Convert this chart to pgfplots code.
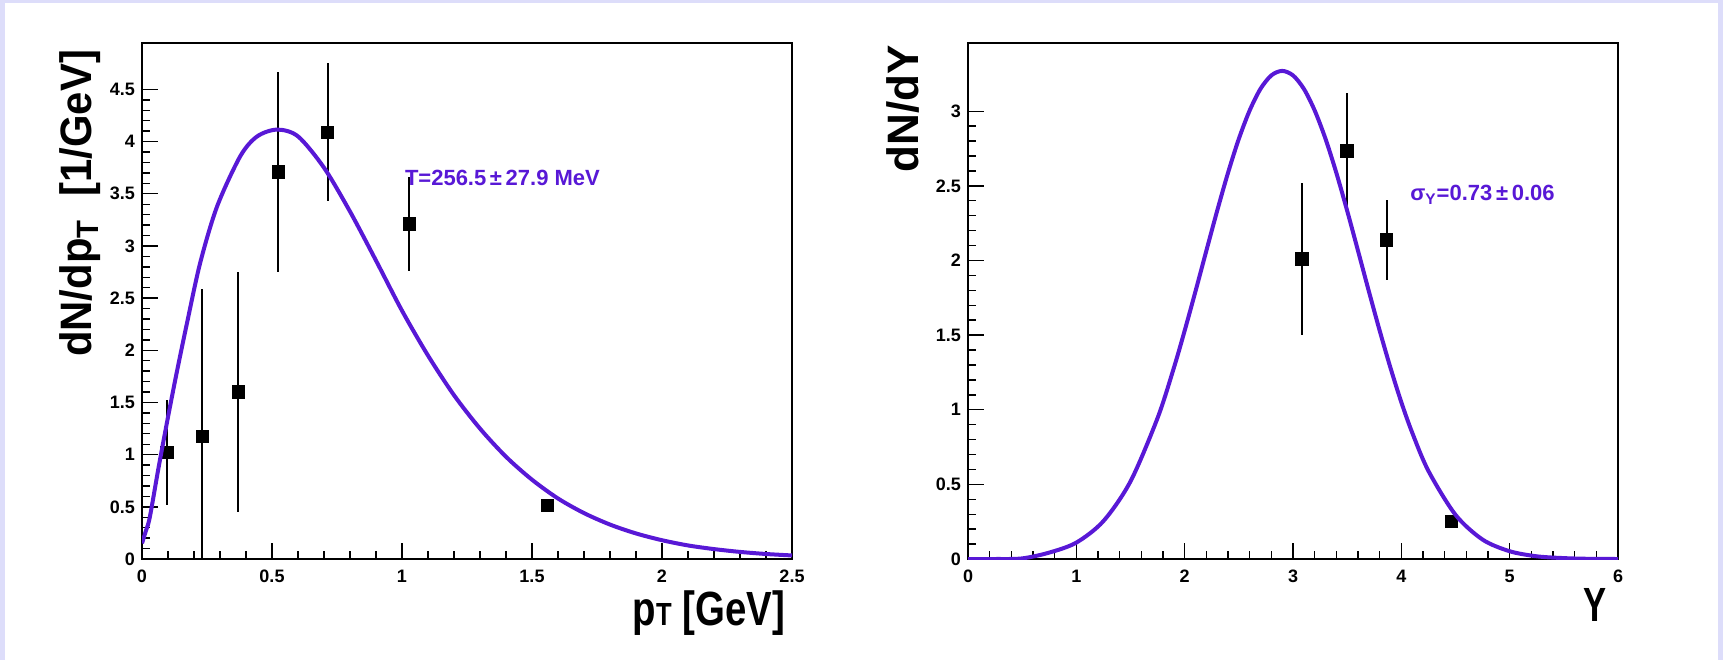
\documentclass[border=0pt]{standalone}
\usepackage{pgfplots}
\pgfplotsset{compat=1.18}
\usepackage{fontspec}
\setmainfont{Liberation Sans}
\definecolor{fitblue}{RGB}{88,24,214}
\definecolor{framebg}{RGB}{221,221,250}

\pgfplotsset{rootstyle/.style={
    scale only axis, width=325pt, height=258pt,
    axis line style={line width=0.9pt},
    tick align=inside, xtick pos=bottom, ytick pos=left,
    major tick length=8pt, minor tick length=4pt,
    tick style={black,line width=0.7pt},
    minor tick num=4,
    tick label style={font=\fontsize{9}{9}\selectfont\bfseries},
    /pgf/number format/assume math mode=true,
    xticklabel style={yshift=-2pt},
    clip mode=individual,
    every axis y label/.style={rotate=90,anchor=east,font=\fontsize{22}{22}\selectfont\bfseries},
    every axis x label/.style={anchor=base east,font=\fontsize{24}{24}\selectfont\bfseries}}}

\begin{document}
\begin{tikzpicture}
\useasboundingbox (0,0) rectangle (861.5pt,330pt);
\fill[framebg] (0,0) rectangle (861.5pt,330pt);
\fill[white] (2.5pt,0) rectangle (859pt,328.5pt);

% left: transverse momentum spectrum
\begin{axis}[rootstyle, at={(71pt,50.5pt)}, anchor=south west,
  xmin=0, xmax=2.5, ymin=0, ymax=4.945,
  xtick={0,0.5,...,2.5}, ytick={0,0.5,...,4.5},
  ylabel={\scalebox{0.95}[1]{dN/dp\textsubscript{T}\ \ [1/GeV]}}, y label style={at={(axis description cs:-0.0954,1)}},
  xlabel={\scalebox{0.8}[1]{p{\fontsize{16}{16}\selectfont T} [GeV]}}, x label style={at={(axis description cs:1.0,-0.128)}}]
  \addplot[only marks, mark=square*, mark size=3.1pt, black,
    error bars/.cd, y dir=both, y explicit, error mark=none,
    error bar style={line width=1pt,black}]
    coordinates {(0.095,1.02) +- (0,0.50) (0.232,1.175) +- (0,1.415) (0.371,1.60) +- (0,1.15)
      (0.524,3.71) +- (0,0.96) (0.714,4.09) +- (0,0.66) (1.028,3.21) +- (0,0.45) (1.559,0.515) +- (0,0.05)};
  \addplot[fitblue, line width=2pt, smooth] coordinates {
    (0,0.15) (0.015,0.27) (0.03,0.40) (0.064,0.88) (0.1,1.36) (0.133,1.78) (0.173,2.26) (0.224,2.84)
    (0.289,3.38) (0.378,3.86) (0.443,4.05) (0.52,4.115) (0.6,4.05) (0.7,3.75) (0.8,3.33)
    (0.9,2.86) (1.0,2.38) (1.1,1.95) (1.2,1.57) (1.3,1.25) (1.4,0.98) (1.5,0.76) (1.6,0.58)
    (1.7,0.44) (1.8,0.33) (1.9,0.245) (2.0,0.18) (2.1,0.13) (2.2,0.095) (2.3,0.068) (2.4,0.048) (2.5,0.034)};
  \node[anchor=west, text=fitblue, inner sep=0pt, font=\fontsize{11}{11}\selectfont\bfseries]
    at (axis cs:1.01,3.65) {T=256.5\,±\,27.9 MeV};
\end{axis}

% right: rapidity distribution
\begin{axis}[rootstyle, at={(484pt,50.5pt)}, anchor=south west,
  xmin=0, xmax=6, ymin=0, ymax=3.457,
  xtick={0,1,...,6}, ytick={0,0.5,...,3},
  ylabel={dN/dY}, y label style={at={(axis description cs:-0.1,1.01)}},
  xlabel={\scalebox{0.72}[1]{Y}}, x label style={at={(axis description cs:0.993,-0.122)}}]
  \addplot[only marks, mark=square*, mark size=3.1pt, black,
    error bars/.cd, y dir=both, y explicit, error mark=none,
    error bar style={line width=1pt,black}]
    coordinates {(3.083,2.01) +- (0,0.51) (3.499,2.733) +- (0,0.39) (3.864,2.137) +- (0,0.27) (4.462,0.252) +- (0,0.04)};
  \addplot[fitblue, line width=2pt, smooth] coordinates {
    (0,0.0) (0.25,0.0) (0.5,0.004) (0.75,0.043) (1.0,0.11) (1.25,0.254) (1.5,0.52) (1.75,0.945)
    (1.9,1.28) (2.0,1.53) (2.1,1.794) (2.2,2.065) (2.3,2.333) (2.4,2.587) (2.5,2.815) (2.6,3.005)
    (2.7,3.15) (2.8,3.24) (2.9,3.27) (3.0,3.24) (3.1,3.15) (3.2,3.005) (3.3,2.815) (3.4,2.587)
    (3.5,2.333) (3.6,2.065) (3.7,1.794) (3.8,1.53) (3.9,1.28) (4.0,1.05) (4.1,0.847) (4.25,0.59)
    (4.5,0.296) (4.75,0.13) (5.0,0.052) (5.25,0.018) (5.5,0.006) (5.75,0.001) (6.0,0.0)};
  \node[anchor=west, text=fitblue, inner sep=0pt, font=\fontsize{11}{11}\selectfont\bfseries]
    at (axis cs:4.08,2.44) {σ\textsubscript{Y}=0.73\,±\,0.06};
\end{axis}
\end{tikzpicture}
\end{document}
